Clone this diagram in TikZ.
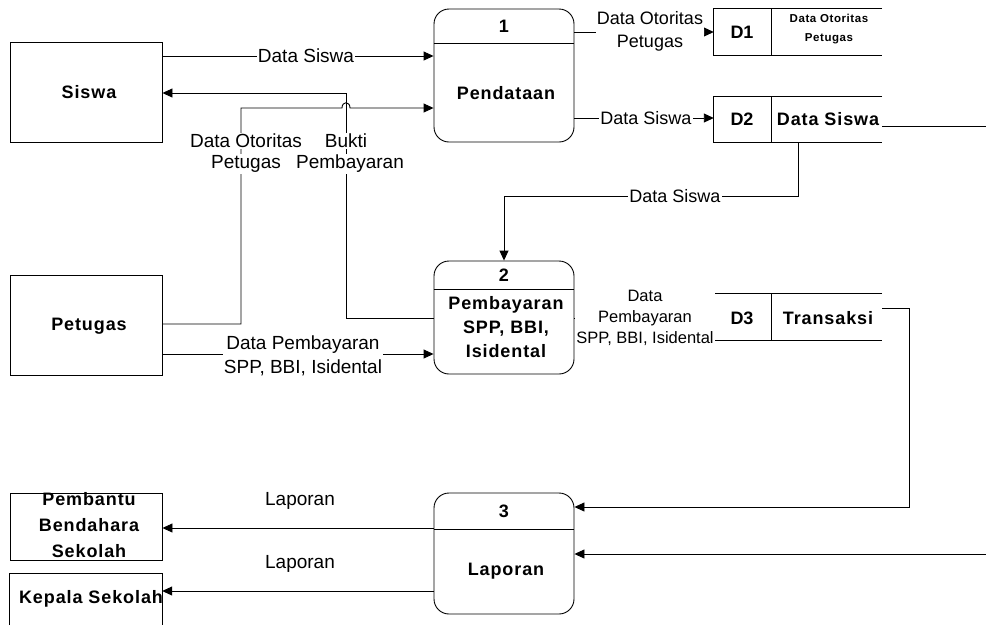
\documentclass[tikz,border=0pt]{standalone}
\usepackage{fontspec}
\setmainfont{Liberation Sans}
\newfontfamily\spacedfont{Liberation Sans}[LetterSpace=5]
\usetikzlibrary{arrows.meta}

\tikzset{
  flow/.style={line width=0.9pt},
  arr/.style={flow, -{Triangle[length=10pt,width=9pt]}},
  smallarr/.style={flow, -{Triangle[length=4pt,width=4pt]}},
  box/.style={line width=0.9pt},
  entity/.style={draw, box, minimum width=152pt, inner sep=0pt},
  proc/.style={draw, box, rounded corners=15pt, minimum width=140pt, inner sep=0pt},
  store/.style={minimum width=168pt, inner sep=0pt},
  heavy/.style={font=\spacedfont\bfseries\fontsize{18}{24}\selectfont, align=center, inner sep=0pt},
  numtxt/.style={font=\bfseries\fontsize{18}{22}\selectfont, inner sep=0pt},
  tinyheavy/.style={font=\spacedfont\bfseries\fontsize{11.5}{19}\selectfont, align=center, inner sep=0pt},
  lbl/.style={fill=white, inner sep=1pt, align=center, font=\fontsize{19}{24}\selectfont},
  lblmid/.style={lbl, font=\fontsize{18}{23}\selectfont},
  lblsmall/.style={lbl, font=\fontsize{16.5}{21}\selectfont},
}

\begin{document}
\begin{tikzpicture}[x=1pt, y=-1pt]
\useasboundingbox (0,0) rectangle (986,625);

% external entities
\node[entity, minimum height=100pt] (siswa) at (86,92) {};
\node[heavy] (siswatxt) at (89,92) {Siswa};
\node[entity, minimum height=100pt] (petugas) at (86,325) {};
\node[heavy] (petugastxt) at (89,326) {Petugas};
\node[entity, minimum height=67pt] (pembantu) at (86,526.5) {};
\node[heavy, font=\spacedfont\bfseries\fontsize{18}{26}\selectfont] (pembantutxt) at (89,525) {Pembantu\\Bendahara\\Sekolah};
\node[store, minimum width=152pt, minimum height=51pt] (kepala) at (86,599.5) {};
\draw[box] (kepala.south west) -- (kepala.north west) -- (kepala.north east) -- (kepala.south east);
\node[heavy] (kepalatxt) at (91,599) {Kepala Sekolah};

% processes
\node[proc, minimum height=133pt] (p1) at (504,75.5) {};
\draw[box] (p1.west |- 0,43) -- (p1.east |- 0,43);
\node[numtxt] (p1num) at (504,26) {1};
\node[heavy] (p1txt) at (506,93) {Pendataan};

\node[proc, minimum height=113pt] (p2) at (504,317.5) {};
\draw[box] (p2.west |- 0,289) -- (p2.east |- 0,289);
\node[numtxt] (p2num) at (504,275) {2};
\node[heavy] (p2txt) at (506,327) {Pembayaran\\SPP, BBI,\\Isidental};

\node[proc, minimum height=121pt] (p3) at (504,553.5) {};
\draw[box] (p3.west |- 0,529) -- (p3.east |- 0,529);
\node[numtxt] (p3num) at (504,511) {3};
\node[heavy] (p3txt) at (506,571) {Laporan};

% data stores
\node[store, minimum height=46pt] (d1) at (798,32) {};
\node[store, minimum height=45pt] (d2) at (798,119.5) {};
\node[store, minimum height=46pt] (d3) at (798,317) {};
\foreach \s in {d1,d2,d3}{
  \draw[box] (\s.north east) -- (\s.north west) -- (\s.south west) -- (\s.south east);
  \draw[box] ([xshift=58pt]\s.north west) -- ([xshift=58pt]\s.south west);
}
\node[numtxt] (d1id) at (742,32) {D1};
\node[tinyheavy] (d1txt) at (829,29) {Data Otoritas\\Petugas};
\node[numtxt] (d2id) at (742,119) {D2};
\node[heavy] (d2txt) at (828,119) {Data Siswa};
\node[numtxt] (d3id) at (742,318) {D3};
\node[heavy] (d3txt) at (828,318) {Transaksi};

% free ends at the right border
\coordinate (rightA) at (986,126);
\coordinate (rightB) at (986,554);

% data flows
\draw[arr] (siswa.east |- 0,56) -- (p1.west |- 0,56);
\draw[arr] (p2.west |- 0,318) -| (346,93) -- (siswa.east |- 0,93);
\draw[arr] (petugas.east |- 0,324) -| (241,108) -- (342,108)
  .. controls (342,101) and (350,101) .. (350,108) -- (p1.west |- 0,108);
\draw[arr] (petugas.east |- 0,354) -- (p2.west |- 0,354);
\draw[arr] (p1.east |- 0,32) -- (d1.west);
\draw[arr] (p1.east |- 0,118) -- (d2.west |- 0,118);
\draw[arr] (d2.south) |- (p2.north |- 0,196) -- (p2.north);
\draw[flow] (d2.east |- rightA) -- (rightA);
\draw[smallarr] (p2.east |- 0,318) -- (d3.west |- 0,318);
\draw[arr] (d3.east |- 0,308) -| (909,507) -- (p3.east |- 0,507);
\draw[arr] (rightB) -- (p3.east |- rightB);
\draw[arr] (p3.west |- 0,528) -- (pembantu.east |- 0,528);
\draw[arr] (p3.west |- 0,591) -- (kepala.east |- 0,591);

% flow labels
\node[lbl] (l1) at (306,56) {Data Siswa};
\node[lbl] (l2a) at (346,141) {Bukti};
\node[lbl] (l2b) at (350,164) {Pembayaran};
\node[lbl] (l3a) at (246,141) {Data Otoritas};
\node[lbl] (l3b) at (246,164) {Petugas};
\node[lbl] (l4) at (303,356) {Data Pembayaran\\SPP, BBI, Isidental};
\node[lblmid] (l5) at (650,31) {Data Otoritas\\Petugas};
\node[lblmid] (l6) at (646,118) {Data Siswa};
\node[lblmid] (l7) at (675,196) {Data Siswa};
\node[lblsmall] (l8) at (645,318) {Data\\Pembayaran\\SPP, BBI, Isidental};
\node[lbl, fill=none] (l9) at (300,501) {Laporan};
\node[lbl, fill=none] (l10) at (300,564) {Laporan};
\end{tikzpicture}
\end{document}
